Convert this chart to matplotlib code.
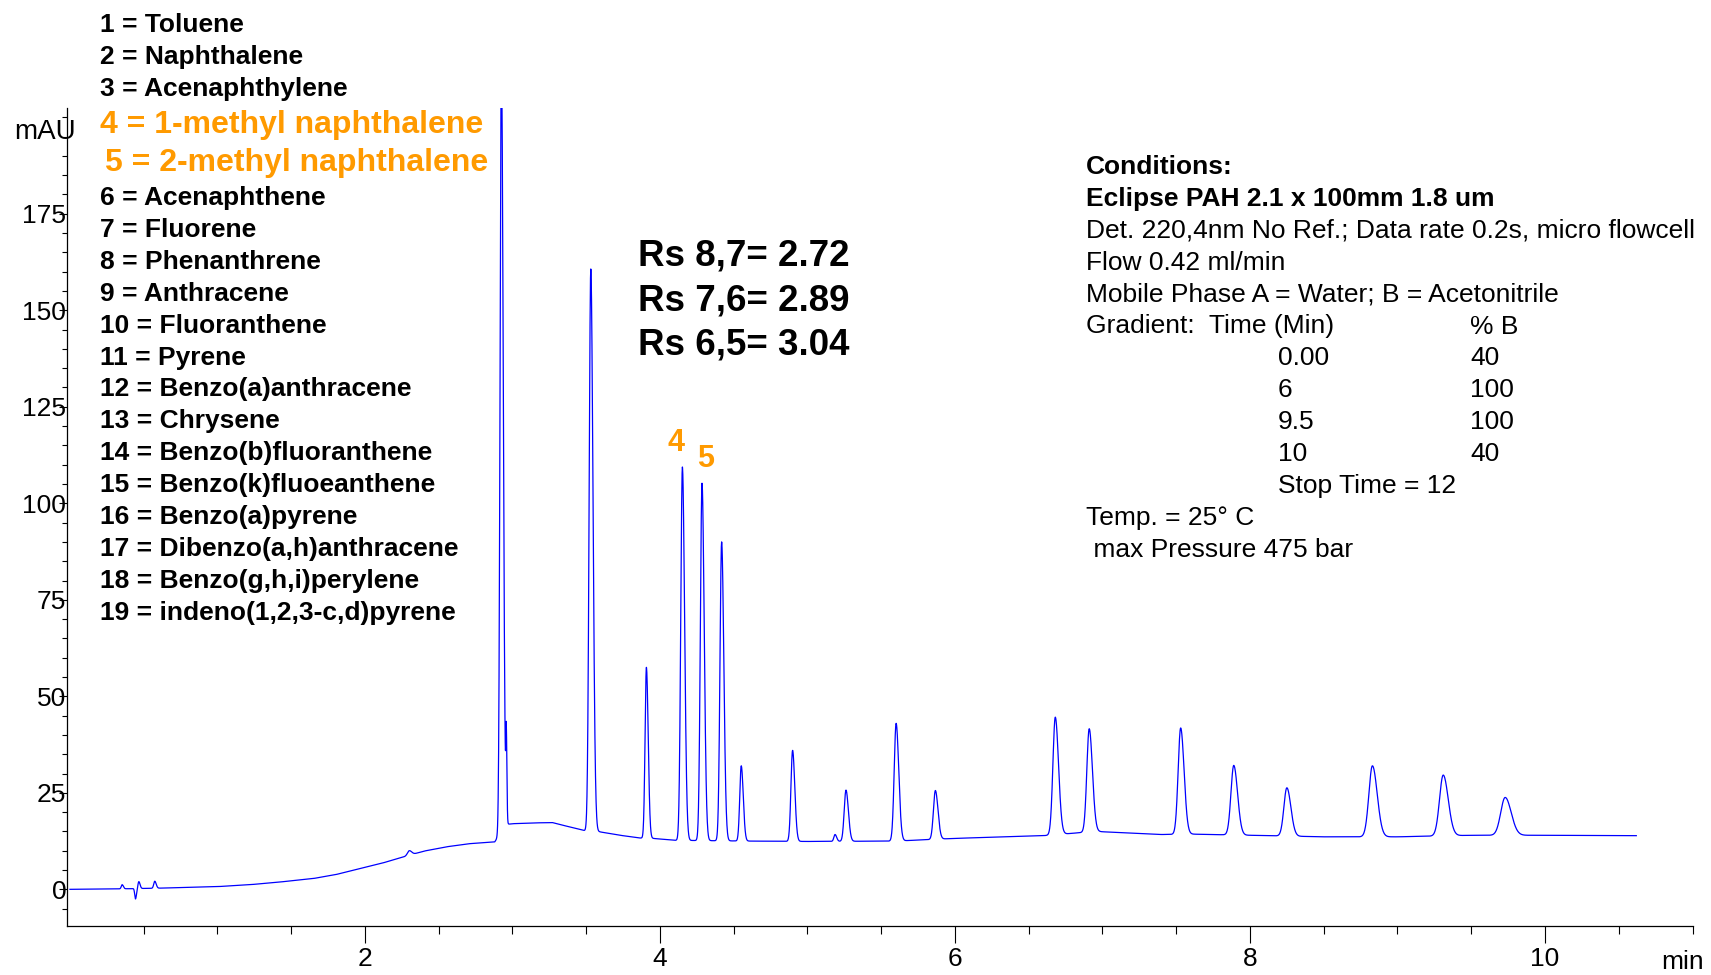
import numpy as np
import matplotlib
matplotlib.use("Agg")
import matplotlib.pyplot as plt
from matplotlib.ticker import MultipleLocator, FixedLocator

plt.rcParams["font.family"] = ["Liberation Sans", "DejaVu Sans"]

W, H = 1711, 975
ORANGE = "#FF9A00"

compounds = [
    "1 = Toluene", "2 = Naphthalene", "3 = Acenaphthylene",
    "4 = 1-methyl naphthalene", "5 = 2-methyl naphthalene",
    "6 = Acenaphthene", "7 = Fluorene", "8 = Phenanthrene", "9 = Anthracene",
    "10 = Fluoranthene", "11 = Pyrene", "12 = Benzo(a)anthracene",
    "13 = Chrysene", "14 = Benzo(b)fluoranthene", "15 = Benzo(k)fluoeanthene",
    "16 = Benzo(a)pyrene", "17 = Dibenzo(a,h)anthracene",
    "18 = Benzo(g,h,i)perylene", "19 = indeno(1,2,3-c,d)pyrene",
]
highlighted = [4, 5]

rs_lines = ["Rs 8,7= 2.72", "Rs 7,6= 2.89", "Rs 6,5= 3.04"]

cond_bold = ["Conditions:", "Eclipse PAH 2.1 x 100mm 1.8 um"]
cond_lines = [
    "Det. 220,4nm No Ref.; Data rate 0.2s, micro flowcell",
    "Flow 0.42 ml/min",
    "Mobile Phase A = Water; B = Acetonitrile",
]
grad_time = ["0.00", "6", "9.5", "10"]
grad_b = ["40", "100", "100", "40"]
cond_tail = ["Temp. = 25° C", " max Pressure 475 bar"]

x_major = [2, 4, 6, 8, 10]
y_major = [0, 25, 50, 75, 100, 125, 150, 175]

# baseline drift (min, mAU)
base_t = [0.00, 0.30, 0.60, 1.00, 1.22, 1.40, 1.65, 1.80, 1.97, 2.10, 2.28,
          2.40, 2.55, 2.70, 2.88, 2.96, 3.00, 3.14, 3.27, 3.31, 3.49, 3.59,
          3.73, 3.86, 3.95, 4.10, 4.60, 5.00, 5.60, 6.00, 6.60, 6.95, 7.40,
          7.60, 8.00, 8.50, 9.00, 9.50, 10.00, 10.62]
base_v = [0.0, 0.1, 0.3, 0.7, 1.2, 1.8, 2.8, 3.8, 5.4, 6.6, 8.6,
          9.9, 11.0, 11.8, 12.3, 16.8, 17.0, 17.2, 17.3, 16.9, 15.2, 14.9,
          14.0, 13.3, 13.2, 12.7, 12.5, 12.4, 12.5, 13.2, 13.9, 15.0, 14.2,
          14.3, 14.0, 13.6, 13.6, 14.0, 14.0, 13.9]

# peaks: retention time (min), apex (mAU), sigma (min)
peak_t = [0.354, 0.444, 0.467, 0.575, 2.300, 2.925, 2.958, 3.531, 3.908,
          4.152, 4.285, 4.418, 4.551, 4.899, 5.187, 5.261, 5.601, 5.867,
          6.680, 6.910, 7.530, 7.890, 8.250, 8.830, 9.310, 9.730]
peak_h = [1.2, -2.5, 2.0, 2.1, 10.0, 215.0, 38.5, 160.7, 57.5,
          109.4, 105.2, 90.0, 32.0, 36.0, 14.2, 25.7, 43.0, 25.6,
          44.6, 41.6, 41.8, 32.1, 26.3, 32.0, 29.6, 23.8]
peak_w = [0.006, 0.005, 0.006, 0.007, 0.012, 0.009, 0.003, 0.011, 0.009,
          0.011, 0.011, 0.011, 0.010, 0.011, 0.008, 0.012, 0.013, 0.013,
          0.016, 0.016, 0.017, 0.019, 0.020, 0.024, 0.025, 0.030]

t = np.arange(0.0, 10.62, 0.001)
signal = np.interp(t, base_t, base_v)
for rt, apex, sd in zip(peak_t, peak_h, peak_w):
    amp = apex - np.interp(rt, base_t, base_v)
    s = np.where(t < rt, sd, sd * 1.35)  # slight tailing
    signal = signal + amp * np.exp(-0.5 * ((t - rt) / s) ** 2)

fig = plt.figure(figsize=(W / 100, H / 100), dpi=100)
ax = fig.add_axes([67 / W, 1 - 926 / H, (1692.5 - 67) / W, (926 - 108) / H])
ax.plot(t, signal, color="#0000FF", lw=0.9)

ax.set_xlim(-0.02, 11.0)
ax.set_ylim(-9.5, 202.4)
ax.spines["top"].set_visible(False)
ax.spines["right"].set_visible(False)
for side in ("left", "bottom"):
    ax.spines[side].set_linewidth(0.9)
ax.xaxis.set_major_locator(FixedLocator(x_major))
ax.xaxis.set_minor_locator(FixedLocator(np.arange(0.5, 11.01, 0.5)))
ax.yaxis.set_major_locator(FixedLocator(y_major))
ax.yaxis.set_minor_locator(MultipleLocator(5))
ax.tick_params(axis="x", which="major", length=12, width=0.8, labelsize=19, pad=3)
ax.tick_params(axis="x", which="minor", length=6, width=0.8)
ax.tick_params(axis="y", which="major", length=6, width=0.8, labelsize=19, pad=-5.5)
ax.tick_params(axis="y", which="minor", length=3.5, width=0.8)

fig.text(44.7 / W, 1 - 132 / H, "mAU", fontsize=20, ha="center", va="center")
fig.text(1683 / W, 1 - 962 / H, "min", fontsize=19, ha="center", va="center")

# compound list
for i, name in enumerate(compounds):
    num = i + 1
    if num in highlighted:
        y = 124.5 if num == 4 else 162.5
        x = 100.4 if num == 4 else 104.8
        fig.text(x / W, 1 - y / H, name, fontsize=23, fontweight="bold",
                 color=ORANGE, ha="left", va="center")
    else:
        y = 25 + 32.2 * i if num < 4 else 198 + 31.9 * (i - 5)
        fig.text(100.4 / W, 1 - y / H, name, fontsize=19, fontweight="bold",
                 ha="left", va="center")

for i, line in enumerate(rs_lines):
    fig.text(638 / W, 1 - (256 + 44.7 * i) / H, line, fontsize=26.5,
             fontweight="bold", ha="left", va="center")

ax.text(4.11, 115.6, "4", fontsize=22, fontweight="bold", color=ORANGE,
        ha="center", va="center")
ax.text(4.31, 111.4, "5", fontsize=22, fontweight="bold", color=ORANGE,
        ha="center", va="center")

# conditions block
cx, c1, c2 = 1085.8, 1277.8, 1469.9
y0, dy = 167, 31.9
row = 0
for line in cond_bold:
    fig.text(cx / W, 1 - (y0 + dy * row) / H, line, fontsize=19,
             fontweight="bold", ha="left", va="center")
    row += 1
for line in cond_lines:
    fig.text(cx / W, 1 - (y0 + dy * row) / H, line, fontsize=19,
             ha="left", va="center")
    row += 1
fig.text(cx / W, 1 - (y0 + dy * row) / H, "Gradient:  Time (Min)", fontsize=19,
         ha="left", va="center")
fig.text(c2 / W, 1 - (y0 + dy * row) / H, "% B", fontsize=19, ha="left", va="center")
row += 1
for tm, b in zip(grad_time, grad_b):
    fig.text(c1 / W, 1 - (y0 + dy * row) / H, tm, fontsize=19, ha="left", va="center")
    fig.text(c2 / W, 1 - (y0 + dy * row) / H, b, fontsize=19, ha="left", va="center")
    row += 1
fig.text(c1 / W, 1 - (y0 + dy * row) / H, "Stop Time = 12", fontsize=19,
         ha="left", va="center")
row += 1
for line in cond_tail:
    fig.text(cx / W, 1 - (y0 + dy * row) / H, line, fontsize=19,
             ha="left", va="center")
    row += 1

fig.savefig("out.png", dpi=100)
